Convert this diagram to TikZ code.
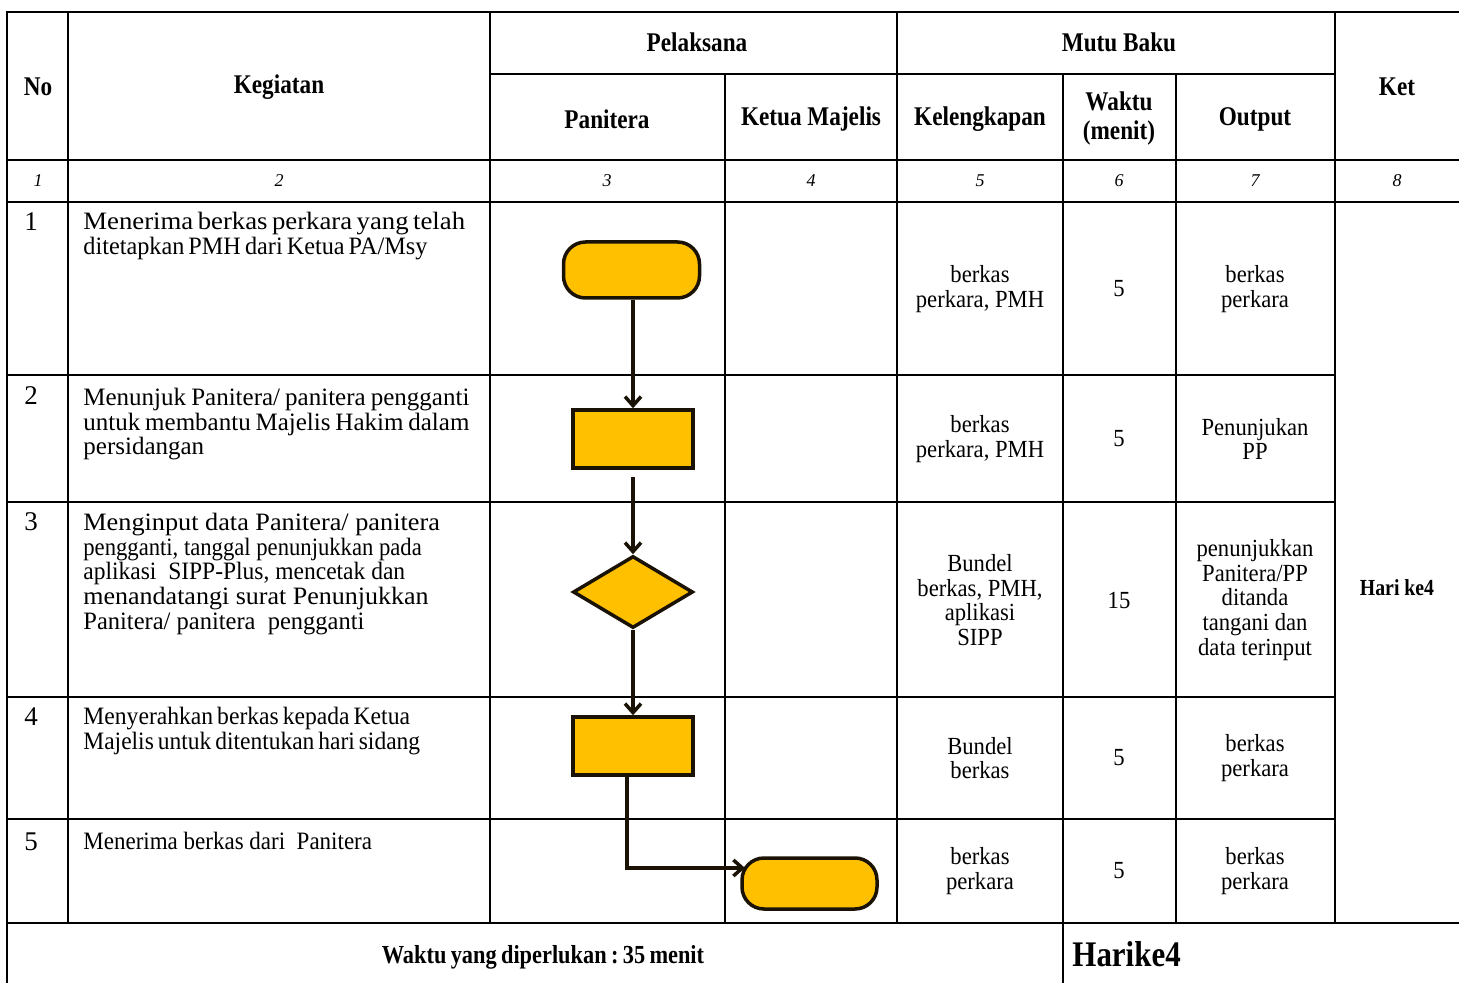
\documentclass[tikz,border=0pt]{standalone}
\usepackage{fontspec}
\usepackage{graphicx}
\setmainfont{Liberation Serif}
\newfontfamily\condfont{Liberation Serif}[FakeStretch=0.86]
\newfontfamily\cellfont{Liberation Serif}[FakeStretch=0.92]
\usetikzlibrary{shapes.geometric,arrows.meta}
\definecolor{flowfill}{HTML}{FFC000}
\definecolor{flowline}{HTML}{1A1205}
\newcommand{\hs}[2]{\scalebox{#1}[1]{#2}}
\begin{document}
\begin{tikzpicture}[x=0.5pt,y=-0.5pt,
  grid/.style={line width=1.3pt,line cap=rect},
  hdr/.style={font=\condfont\bfseries\fontsize{13.5}{14.5}\selectfont,align=center,inner sep=0},
  idx/.style={font=\itshape\fontsize{9}{10}\selectfont,inner sep=0},
  rowno/.style={font=\fontsize{13.5}{15}\selectfont,inner sep=0},
  body/.style={font=\fontsize{12.5}{12.3}\selectfont,align=left,anchor=north west,inner sep=0},
  cell/.style={font=\cellfont\fontsize{12.3}{12.3}\selectfont,align=center,inner sep=0},
  flowshape/.style={draw=flowline,fill=flowfill,line width=1.75pt,inner sep=0},
  term/.style={flowshape,rectangle,rounded corners=11pt,minimum width=68pt,minimum height=28pt},
  proc/.style={flowshape,rectangle,minimum width=60pt,minimum height=29pt},
  decis/.style={flowshape,diamond,minimum width=60pt,minimum height=36pt},
  flow/.style={draw=flowline,line width=1.75pt,-{Straight Barb[length=4.5pt,width=8pt]}}
]
\useasboundingbox (0,0) rectangle (1459,983);
\fill[white] (0,0) rectangle (1459,983);

% ---------- grid ----------
\draw[grid] (7,12) -- (1459,12);
\draw[grid] (490,74) -- (1335,74);
\draw[grid] (7,160) -- (1459,160);
\draw[grid] (7,202) -- (1459,202);
\foreach \yy in {375,502,697,819} \draw[grid] (7,\yy) -- (1335,\yy);
\draw[grid] (7,923) -- (1459,923);
\draw[grid] (7,12) -- (7,983);
\draw[grid] (68,12) -- (68,923);
\draw[grid] (490,12) -- (490,923);
\draw[grid] (725,74) -- (725,923);
\draw[grid] (897,12) -- (897,923);
\draw[grid] (1063,74) -- (1063,983);
\draw[grid] (1176,74) -- (1176,923);
\draw[grid] (1335,12) -- (1335,923);

% ---------- header ----------
\node[hdr] (hno) at (38,87) {No};
\node[hdr] (hkeg) at (279,87) {Kegiatan};
\node[hdr] (hpel) at (697,42) {Pelaksana};
\node[hdr] (hmutu) at (1119,42) {Mutu Baku};
\node[hdr] (hket) at (1397,87) {Ket};
\node[hdr] (hpan) at (607,119) {Panitera};
\node[hdr] (hketua) at (811,119) {Ketua Majelis};
\node[hdr] (hkel) at (980,119) {Kelengkapan};
\node[hdr] (hwak) at (1119,119) {Waktu\\(menit)};
\node[hdr] (hout) at (1255,119) {Output};

\node[idx] (i1) at (38,181) {1};
\node[idx] (i2) at (279,181) {2};
\node[idx] (i3) at (607,181) {3};
\node[idx] (i4) at (811,181) {4};
\node[idx] (i5) at (980,181) {5};
\node[idx] (i6) at (1119,181) {6};
\node[idx] (i7) at (1255,181) {7};
\node[idx] (i8) at (1397,181) {8};

% ---------- row numbers ----------
\node[rowno] (n1) at (31,222) {1};
\node[rowno] (n2) at (31,396) {2};
\node[rowno] (n3) at (31,522) {3};
\node[rowno] (n4) at (31,717) {4};
\node[rowno] (n5) at (31,842) {5};

% ---------- Kegiatan ----------
\node[body] (k1) at (83,212)
  {\hs{1.07}{Menerima\,berkas\,perkara\,yang\,telah}\\
   \hs{0.97}{ditetapkan\,PMH\,dari\,Ketua\,PA/Msy}};
\node[body] (k2) at (83,388)
  {\hbox to 193pt{Menunjuk Panitera/ panitera pengganti}\\
   \hbox to 193pt{untuk membantu Majelis Hakim dalam}\\
   persidangan};
\node[body] (k3) at (83,513)
  {\hs{1.05}{Menginput data Panitera/ panitera}\\
   \hs{0.906}{pengganti, tanggal penunjukkan pada}\\
   \hs{0.94}{aplikasi\ \ SIPP-Plus, mencetak dan}\\
   \hs{1.04}{menandatangi surat Penunjukkan}\\
   \hs{0.98}{Panitera/ panitera\ \ pengganti}};
\node[body] (k4) at (83,707)
  {\hs{0.945}{Menyerahkan\,berkas\,kepada\,Ketua}\\
   \hs{0.94}{Majelis\,untuk\,ditentukan\,hari\,sidang}};
\node[body] (k5) at (83,832)
  {\hs{0.92}{Menerima berkas dari\ \ Panitera}};

% ---------- Kelengkapan ----------
\node[cell] (l1) at (980,289) {berkas\\perkara, PMH};
\node[cell] (l2) at (980,439) {berkas\\perkara, PMH};
\node[cell] (l3) at (980,600) {Bundel\\berkas, PMH,\\aplikasi\\SIPP};
\node[cell] (l4) at (980,758) {Bundel\\berkas};
\node[cell] (l5) at (980,871) {berkas\\perkara};

% ---------- Waktu ----------
\node[cell] (w1) at (1119,289) {5};
\node[cell] (w2) at (1119,439) {5};
\node[cell] (w3) at (1119,600) {15};
\node[cell] (w4) at (1119,758) {5};
\node[cell] (w5) at (1119,871) {5};

% ---------- Output ----------
\node[cell] (o1) at (1255,289) {berkas\\perkara};
\node[cell] (o2) at (1255,439) {Penunjukan\\PP};
\node[cell] (o3) at (1255,600) {penunjukkan\\Panitera/PP\\ditanda\\tangani dan\\data terinput};
\node[cell] (o4) at (1255,758) {berkas\\perkara};
\node[cell] (o5) at (1255,871) {berkas\\perkara};

% ---------- Ket ----------
\node[hdr,font=\condfont\bfseries\fontsize{11.5}{13}\selectfont] (ket) at (1397,588) {Hari ke4};

% ---------- footer ----------
\node[hdr,font=\condfont\bfseries\fontsize{13}{14}\selectfont] (ftime) at (543,957)
  {Waktu\,yang\,diperlukan\,:\,35\,menit};
\node[hdr,font=\condfont\bfseries\fontsize{18}{20}\selectfont,anchor=west] (fday) at (1072,954) {Harike4};

% ---------- flowchart ----------
\node[term] (t1) at (631.5,270) {};
\node[proc] (r2) at (633,439) {};
\node[decis] (d3) at (633,592) {};
\node[proc] (r4) at (633,746) {};
\node[term,minimum width=67.5pt,minimum height=25.5pt] (t5) at (809.5,883.5) {};
\coordinate (e5) at (745,868);
\coordinate (s4) at (627,775);

\draw[flow] (t1.south -| r2.north) -- (r2.north);
\draw[flow,shorten <=3.5pt] (r2.south) -- (d3.north);
\draw[flow] (d3.south) -- (r4.north);
\draw[flow] (s4) |- (e5);
\end{tikzpicture}
\end{document}
